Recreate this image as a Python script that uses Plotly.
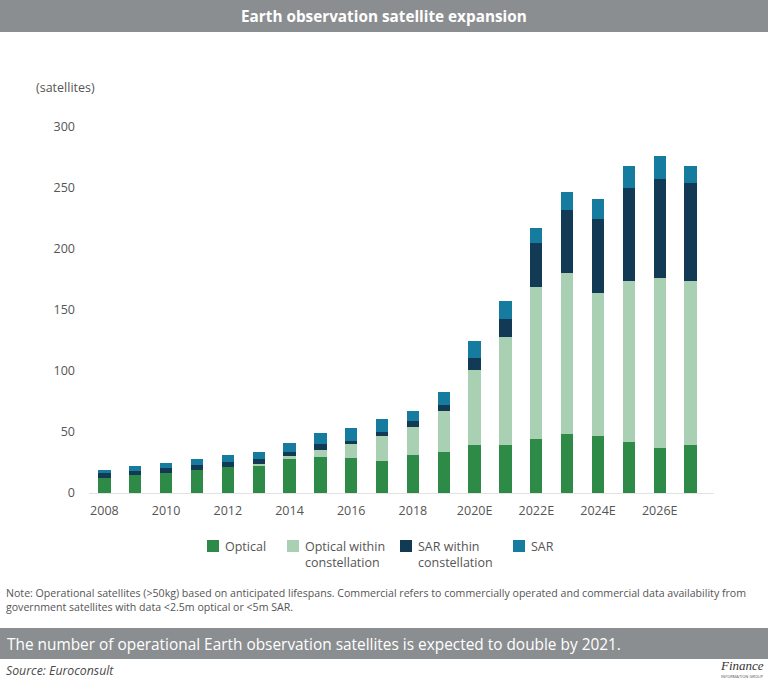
import plotly.graph_objects as go

years = ["2008","2009","2010","2011","2012","2013","2014","2015","2016","2017","2018","2019",
         "2020E","2021E","2022E","2023E","2024E","2025E","2026E","2027E"]
tick_labels = ["2008","2010","2012","2014","2016","2018","2020E","2022E","2024E","2026E"]
optical = [12.5,15,16,19,21,22.5,28,29.5,28.5,26.5,31.5,34,39,39.5,44.5,48,47,41.5,36.5,39.5]
optical_within = [0,0,0,0,0,1,2,6,11.5,20,23,33,62,88,124.5,132,117,132.5,139.5,134.5]
sar_within = [3.5,3,4.5,4,4.5,4,3.5,4.5,3,3.5,4.5,5,10,15.5,36,52,61,76,81,80]
sar = [3,4,4.5,5,5.5,6.5,7.5,9,10.5,11,8.5,11,14,14,12,15,16,18,19,14]
series_names = ["Optical", "Optical within<br>constellation", "SAR within<br>constellation", "SAR"]
series_colors = ["#2e8b47", "#a9d0b2", "#123a54", "#167c9f"]
series_values = [optical, optical_within, sar_within, sar]

title = "Earth observation satellite expansion"
unit = "(satellites)"
note = ("Note: Operational satellites (>50kg) based on anticipated lifespans. Commercial refers to commercially operated and commercial data availability from<br>"
        "government satellites with data <2.5m optical or <5m SAR.")
caption = "The number of operational Earth observation satellites is expected to double by 2021."
source = "Source: Euroconsult"

FONT = "Open Sans"
W, H = 768, 681
L, R, T, B = 89, 714, 127, 493
px = lambda x: (x - L) / (R - L)
py = lambda y: (B - y) / (B - T)

fig = go.Figure()
for name, vals, col in zip(series_names, series_values, series_colors):
    fig.add_bar(x=years, y=vals, name=name.replace("<br>", " "), marker=dict(color=col, line_width=0), showlegend=False)

def band(y0, y1):
    return dict(type="rect", xref="paper", yref="paper", x0=px(0), x1=px(W), y0=py(y1), y1=py(y0),
                fillcolor="#8b8e90", line_width=0, layer="below")

def text(t, x, y, size, color="#4a4a4a", xanchor="left", yanchor="middle", **kw):
    return dict(text=t, x=px(x), y=py(y), xref="paper", yref="paper", showarrow=False, xanchor=xanchor,
                yanchor=yanchor, align="left", borderpad=0,
                font=dict(family=kw.pop("family", FONT), size=size, color=color), **kw)

# key placed by hand so swatches sit level with the first text line, as in the reference
key_left = [207, 287, 400, 513]
shapes = [band(0, 32), band(628, 659)]
annotations = [
    text("<b>%s</b>" % title, 384, 16, 15.3, "white", "center"),
    text(unit, 35, 87, 12.5, "#555555"),
    text(note, 5, 600, 10.6, "#555555"),
    text(caption, 6, 644, 15.4, "white"),
    text("<i>%s</i>" % source, 5, 670, 12.3, "#4a4a4a"),
    text("<i>Finance</i>", 765, 665, 13, "#333333", "right", family="Liberation Serif"),
    text("INFORMATION GROUP", 765, 676, 4, "#555555", "right"),
]
for x0, name, col in zip(key_left, series_names, series_colors):
    shapes.append(dict(type="rect", xref="paper", yref="paper", x0=px(x0), x1=px(x0 + 12),
                       y0=py(552), y1=py(540), fillcolor=col, line_width=0))
    annotations.append(text(name, x0 + 17, 537, 12.5, "#555555", yanchor="top"))

fig.update_layout(
    width=W, height=H, barmode="stack", bargap=0.6, showlegend=False,
    margin=dict(l=L, r=W - R, t=T, b=H - B, autoexpand=False, pad=0),
    paper_bgcolor="white", plot_bgcolor="white",
    font=dict(family=FONT, size=12, color="#555555"),
    xaxis=dict(type="category", range=[-0.5, 19.76], tickmode="array", tickvals=tick_labels, ticktext=tick_labels,
               showline=True, linecolor="#e2e2e2", linewidth=1, ticks="", showgrid=False,
               tickfont=dict(size=12.5, color="#555555"), ticklabelstandoff=6),
    yaxis=dict(range=[0, 300], tickvals=[0,50,100,150,200,250,300], showgrid=False, zeroline=False,
               showline=False, ticks="", tickfont=dict(size=12.5, color="#555555"), ticklabelstandoff=13),
    shapes=shapes,
    annotations=annotations,
)
fig.write_html("out.html", config=dict(displayModeBar=False), post_script="document.body.style.margin='0';")
